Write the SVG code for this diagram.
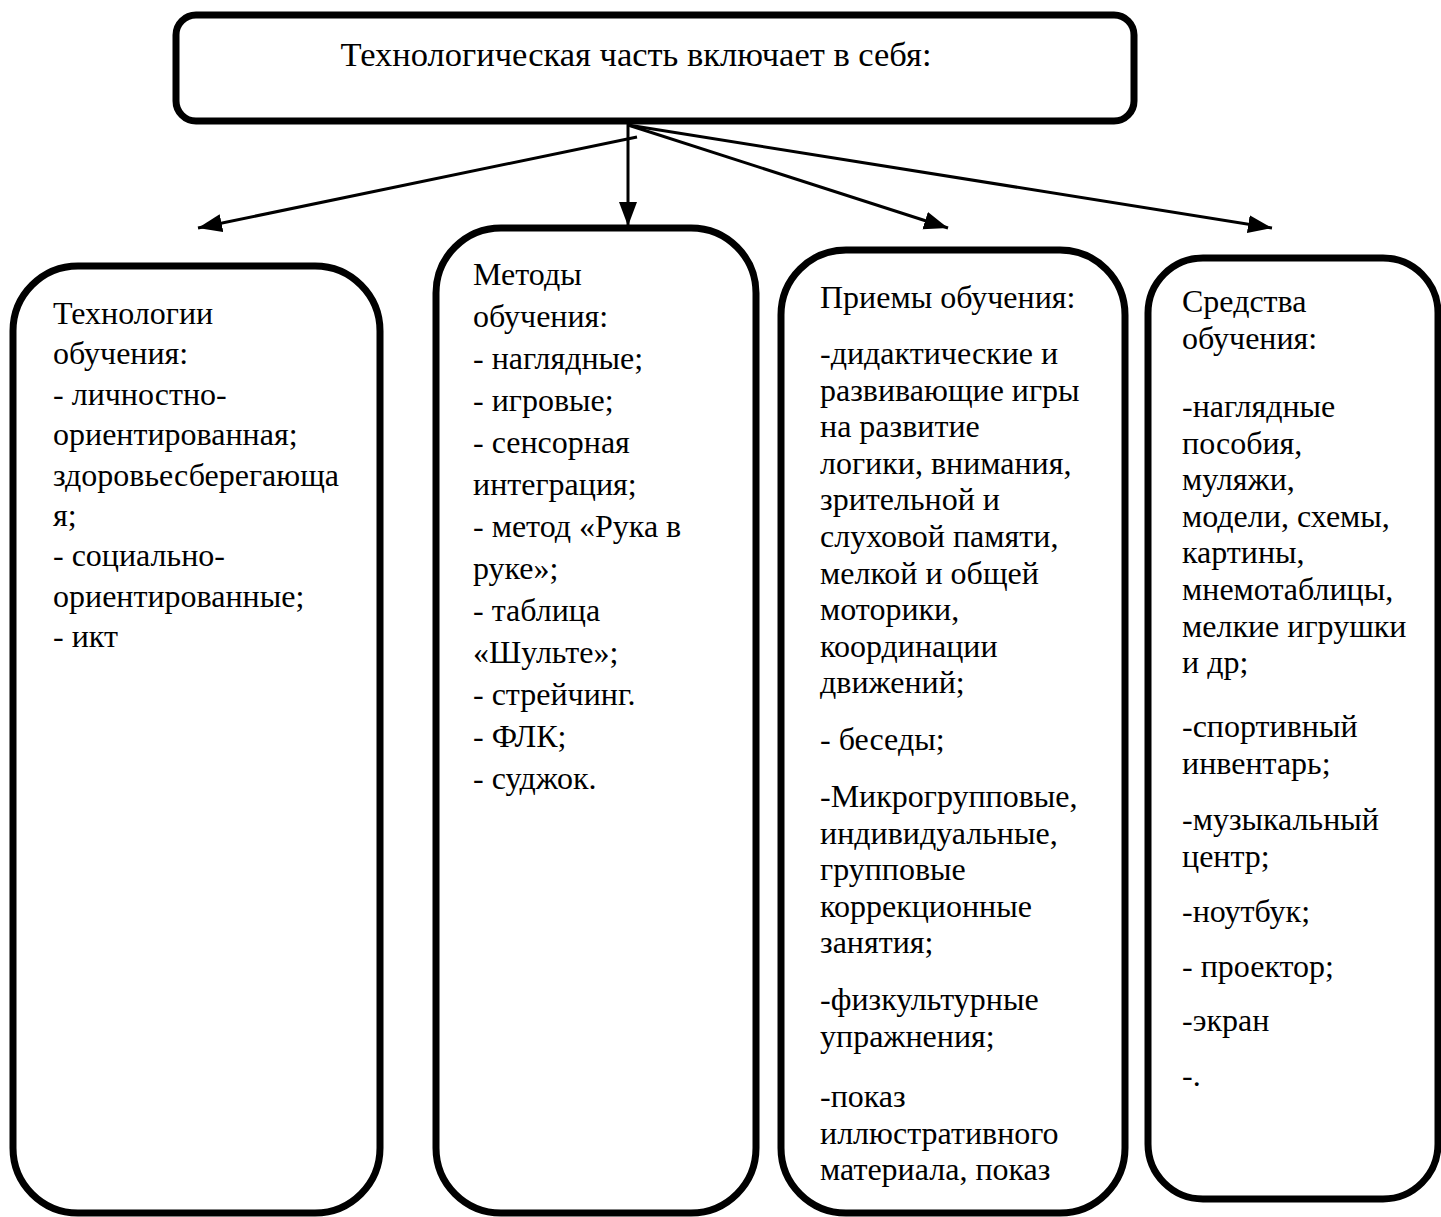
<svg xmlns="http://www.w3.org/2000/svg" width="1441" height="1217" viewBox="0 0 1441 1217">
<style>
.box{fill:#fff;stroke:#000;stroke-width:7}
.t{font-family:"Liberation Serif","Times New Roman",serif;font-size:32px;fill:#000}
.title{font-family:"Liberation Serif","Times New Roman",serif;font-size:34.5px;fill:#000}
.conn{stroke:#000;stroke-width:3;fill:none}
</style>
<defs>
<marker id="ah" markerUnits="userSpaceOnUse" markerWidth="26" markerHeight="20" refX="24" refY="9" orient="auto">
<path d="M0,0 L24,9 L0,18 z" fill="#000"/>
</marker>
</defs>
<rect width="1441" height="1217" fill="#fff"/>
<g id="connectors">
<line class="conn" x1="637" y1="137" x2="198" y2="228" marker-end="url(#ah)"/>
<line class="conn" x1="628" y1="124" x2="628" y2="226" marker-end="url(#ah)"/>
<line class="conn" x1="628" y1="125" x2="948" y2="228" marker-end="url(#ah)"/>
<line class="conn" x1="628" y1="125" x2="1272" y2="228" marker-end="url(#ah)"/>
</g>
<g id="top">
<rect class="box" x="176" y="15" width="958" height="106" rx="20"/>
<text class="title" x="636" y="66" text-anchor="middle">Технологическая часть включает в себя:</text>
</g>
<g id="technologies">
<rect class="box" x="13" y="266" width="367" height="947" rx="65"/>
<text class="t">
<tspan x="53" y="324">Технологии</tspan>
<tspan x="53" y="364.4">обучения:</tspan>
<tspan x="53" y="404.8">- личностно-</tspan>
<tspan x="53" y="445.2">ориентированная;</tspan>
<tspan x="53" y="485.6">здоровьесберегающа</tspan>
<tspan x="53" y="526">я;</tspan>
<tspan x="53" y="566.4">- социально-</tspan>
<tspan x="53" y="606.8">ориентированные;</tspan>
<tspan x="53" y="647.2">- икт</tspan>
</text>
</g>
<g id="methods">
<rect class="box" x="436" y="228" width="320" height="985" rx="65"/>
<text class="t">
<tspan x="473" y="285">Методы</tspan>
<tspan x="473" y="327">обучения:</tspan>
<tspan x="473" y="369">- наглядные;</tspan>
<tspan x="473" y="411">- игровые;</tspan>
<tspan x="473" y="453">- сенсорная</tspan>
<tspan x="473" y="495">интеграция;</tspan>
<tspan x="473" y="537">- метод «Рука в</tspan>
<tspan x="473" y="579">руке»;</tspan>
<tspan x="473" y="621">- таблица</tspan>
<tspan x="473" y="663">«Шульте»;</tspan>
<tspan x="473" y="705">- стрейчинг.</tspan>
<tspan x="473" y="747">- ФЛК;</tspan>
<tspan x="473" y="789">- суджок.</tspan>
</text>
</g>
<g id="techniques">
<rect class="box" x="781" y="250" width="344" height="963" rx="65"/>
<text class="t">
<tspan x="820" y="308">Приемы обучения:</tspan>
<tspan x="820" y="364">-дидактические и</tspan>
<tspan x="820" y="400.6">развивающие игры</tspan>
<tspan x="820" y="437.2">на развитие</tspan>
<tspan x="820" y="473.8">логики, внимания,</tspan>
<tspan x="820" y="510.4">зрительной и</tspan>
<tspan x="820" y="547">слуховой памяти,</tspan>
<tspan x="820" y="583.6">мелкой и общей</tspan>
<tspan x="820" y="620.2">моторики,</tspan>
<tspan x="820" y="656.8">координации</tspan>
<tspan x="820" y="693.4">движений;</tspan>
<tspan x="820" y="750">- беседы;</tspan>
<tspan x="820" y="807">-Микрогрупповые,</tspan>
<tspan x="820" y="843.6">индивидуальные,</tspan>
<tspan x="820" y="880.2">групповые</tspan>
<tspan x="820" y="916.8">коррекционные</tspan>
<tspan x="820" y="953.4">занятия;</tspan>
<tspan x="820" y="1010">-физкультурные</tspan>
<tspan x="820" y="1046.6">упражнения;</tspan>
<tspan x="820" y="1107">-показ</tspan>
<tspan x="820" y="1143.6">иллюстративного</tspan>
<tspan x="820" y="1180.2">материала, показ</tspan>
</text>
</g>
<g id="means">
<rect class="box" x="1148" y="258" width="290" height="941" rx="55"/>
<text class="t">
<tspan x="1182" y="312">Средства</tspan>
<tspan x="1182" y="349">обучения:</tspan>
<tspan x="1182" y="417">-наглядные</tspan>
<tspan x="1182" y="453.6">пособия,</tspan>
<tspan x="1182" y="490.2">муляжи,</tspan>
<tspan x="1182" y="526.8">модели, схемы,</tspan>
<tspan x="1182" y="563.4">картины,</tspan>
<tspan x="1182" y="600">мнемотаблицы,</tspan>
<tspan x="1182" y="636.6">мелкие игрушки</tspan>
<tspan x="1182" y="673.2">и др;</tspan>
<tspan x="1182" y="737">-спортивный</tspan>
<tspan x="1182" y="773.6">инвентарь;</tspan>
<tspan x="1182" y="830">-музыкальный</tspan>
<tspan x="1182" y="866.6">центр;</tspan>
<tspan x="1182" y="922">-ноутбук;</tspan>
<tspan x="1182" y="977">- проектор;</tspan>
<tspan x="1182" y="1031">-экран</tspan>
<tspan x="1182" y="1086">-.</tspan>
</text>
</g>
</svg>
